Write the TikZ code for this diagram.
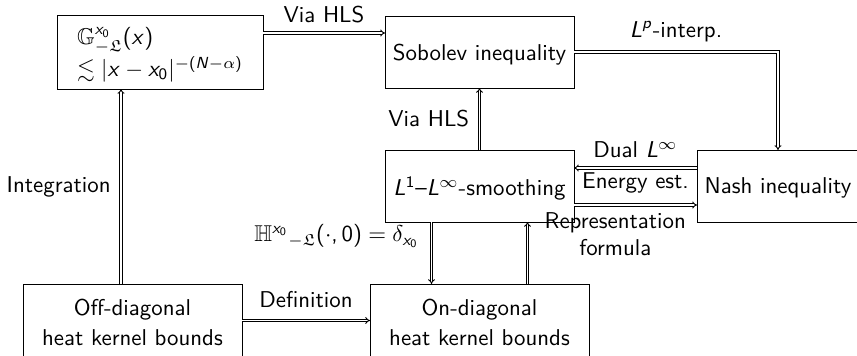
\documentclass[tikz,border=0pt]{standalone}
\usepackage{amsmath}
\usepackage{amssymb}
\usepackage[cm]{sfmath}
\usepackage{tikz}
\usetikzlibrary{arrows.meta}
\renewcommand{\familydefault}{\sfdefault}
\newcommand{\px}{0.437pt}
\tikzstyle{stage}=[draw, inner sep=0, outer sep=0, minimum height=72*\px, minimum width=189*\px, text depth=0pt, align=center]
\tikzstyle{wstage}=[stage, minimum width=219*\px, minimum height=76*\px]
\tikzstyle{imp}=[double, double distance=0.6pt, -{Implies}]
\tikzstyle{heatdiagram}=[x=\px, y=-\px,
                         every node/.style={font=\sffamily, align=center},
                         % clip to the reference frame
                         execute at begin picture={\useasboundingbox (0,0) rectangle (857,356);}]
\begin{document}
\begin{tikzpicture}[heatdiagram]
        \node[stage, minimum width=206*\px, minimum height=74*\px, align=left] (G) at (160, 52)
            {$\mathbb{G}^{x_0}_{-\mathfrak{L}}(x)$\\[0pt] $\lesssim |x-x_0|^{-(N-\alpha)}$\hspace{6pt}};
        \node[stage] (Sob) at (479.5, 52) {Sobolev inequality};
        \node[stage] (Smooth) at (479.5, 186) {$L^1$--$L^\infty$-smoothing};
        \node[stage, minimum width=162*\px] (Nash) at (778, 186) {Nash inequality};
        \node[wstage] (Off) at (132.5, 322) {Off-diagonal\\[1pt]heat kernel bounds};
        \node[wstage] (On) at (479.5, 322) {On-diagonal\\[1pt]heat kernel bounds};
        \draw[imp] ([yshift=19*\px]G.east) -- ([yshift=19*\px]Sob.west) node[midway, above=1pt] {Via HLS};
        \draw[imp] (Sob.east) -| (Nash.north) node[pos=0.25, above=1pt] {$L^p$-interp.};
        \draw[imp] (Smooth.north) -- (Sob.south) node[midway, left=1pt] {Via HLS};
        \draw[imp] ([yshift=18*\px]Nash.west) -- ([yshift=18*\px]Smooth.east) node[midway, above=1pt] {Dual $L^\infty$};
        \draw[imp] ([yshift=-19*\px]Smooth.east) -- ([yshift=-19*\px]Nash.west) node[midway, above=1.5pt] {Energy est.};
        \draw[imp] ([xshift=-48*\px]Smooth.south) -- ([xshift=-48*\px]On.north)
            node[midway, left=2pt, yshift=17*\px] {$\mathbb{H}^{x_0}{}_{-\mathfrak{L}}(\cdot,0)=\delta_{x_0}$};
        \draw[imp] ([xshift=48*\px]On.north) -- ([xshift=48*\px]Smooth.south)
            node[midway, right=4pt, yshift=19*\px] {Representation\\formula};
        \draw[imp] ([xshift=-11.5*\px]Off.north) -- ([xshift=-11.5*\px]Off.north |- G.south)
            node[midway, left=1pt] {Integration};
        \draw[imp] ([yshift=1.5*\px]Off.east) -- ([yshift=1.5*\px]On.west) node[midway, above=2pt] {Definition};
    \end{tikzpicture}
\end{document}
